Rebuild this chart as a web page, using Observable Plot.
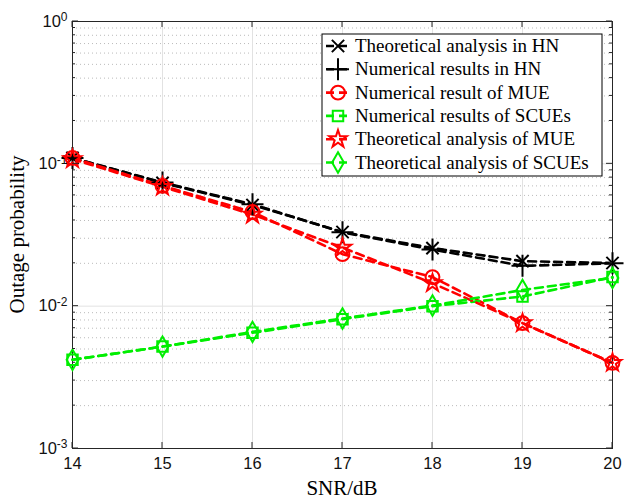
<!DOCTYPE html>
<html><head><meta charset="utf-8">
<script src="https://cdn.jsdelivr.net/npm/d3@7"></script>
<script src="https://cdn.jsdelivr.net/npm/@observablehq/plot@0.6"></script>
<style>body{margin:0;background:#fff}</style>
</head><body><div id="chart"></div>
<script>
const snr = [14, 15, 16, 17, 18, 19, 20];
const hnTheory = [0.110, 0.0735, 0.0514, 0.0332, 0.0256, 0.0207, 0.0201];
const hnNumeric = [0.110, 0.0740, 0.0520, 0.0330, 0.0250, 0.0192, 0.0200];
const mueNumeric = [0.110, 0.0700, 0.0459, 0.0232, 0.0160, 0.0076, 0.0040];
const scueNumeric = [0.0042, 0.0052, 0.0065, 0.0081, 0.0100, 0.0117, 0.0160];
const mueTheory = [0.108, 0.0690, 0.0440, 0.0258, 0.0145, 0.0076, 0.0040];
const scueTheory = [0.0042, 0.0052, 0.0066, 0.0082, 0.0101, 0.0130, 0.0158];
const yDecades = [1e-3, 1e-2, 1e-1, 1];
const yMinor = [2,3,4,5,6,7,8,9].flatMap(m => [1e-3, 1e-2, 1e-1].map(d => m*d));

const seriesDefs = [
  {name: "Theoretical analysis in HN", values: hnTheory, color: "#000000", symbol: "times"},
  {name: "Numerical results in HN", values: hnNumeric, color: "#000000", symbol: "plus"},
  {name: "Numerical result of MUE", values: mueNumeric, color: "#ff0000", symbol: "circle"},
  {name: "Numerical results of SCUEs", values: scueNumeric, color: "#00ee00", symbol: "square"},
  {name: "Theoretical analysis of MUE", values: mueTheory, color: "#ff0000", symbol: "star"},
  {name: "Theoretical analysis of SCUEs", values: scueTheory, color: "#00ee00", symbol: "diamond"}
];
const rows = seriesDefs.flatMap(s => snr.map((x, i) => ({x, y: s.values[i], s: s.name})));

const symbolSize = {times: 100, plus: 160, circle: 150, square: 110, star: 95, diamond: 120};
const marks = [
  Plot.ruleY(yMinor, {stroke: "#bbb", strokeDasharray: "1,3", strokeWidth: 1}),
  Plot.ruleY(yDecades, {stroke: "#e2e2e2", strokeWidth: 1}),
  Plot.ruleX(snr, {stroke: "#e2e2e2", strokeWidth: 1}),
  Plot.frame({stroke: "#262626", strokeWidth: 1}),
  Plot.axisX(snr, {tickSize: 0, tickPadding: 9, fontSize: 16.5, fontFamily: "Liberation Sans, Arial", fill: "#111", label: null, tickFormat: d => String(d)}),
  Plot.axisY(yDecades, {tickSize: 0, tickPadding: 5, fontSize: 16.5, fontFamily: "Liberation Sans, Arial", fill: "#111", label: null, tickFormat: d => "10"})
];
for (const s of seriesDefs) {
  const d = rows.filter(r => r.s === s.name);
  marks.push(Plot.line(d, {x: "x", y: "y", stroke: s.color, strokeWidth: 2.6, strokeDasharray: "8,5"}));
}
for (const s of seriesDefs) {
  const d = rows.filter(r => r.s === s.name);
  marks.push(Plot.dot(d, {x: "x", y: "y", stroke: s.color, strokeWidth: 2, symbol: () => s.symbol, r: Math.sqrt(symbolSize[s.symbol]/Math.PI), fill: "none"}));
}

const chart = Plot.plot({
  width: 625, height: 501,
  marginLeft: 72, marginRight: 13, marginTop: 21, marginBottom: 53,
  x: {domain: [14, 20]},
  y: {type: "log", domain: [1e-3, 1]},
  style: {background: "#fff"},
  marks
});
document.getElementById("chart").appendChild(chart);

const svg = d3.select(chart);
const X = chart.scale("x"), Y = chart.scale("y");
const exps = ["-3", "-2", "-1", "0"];
svg.selectAll('g[aria-label="y-axis tick label"] text').each(function(d, i) {
  const t = d3.select(this);
  t.text(null);
  t.append("tspan").text("10");
  t.append("tspan").attr("dy", "-0.45em").attr("font-size", 12).text(exps[i]);
});
const x0 = X.apply(14), x1 = X.apply(20), y0 = Y.apply(1e-3), y1 = Y.apply(1);
const tg = svg.append("g").attr("stroke", "#262626").attr("stroke-width", 1);
for (const v of snr) {
  const px = X.apply(v);
  tg.append("line").attr("x1", px).attr("x2", px).attr("y1", y0).attr("y2", y0 - 6);
  tg.append("line").attr("x1", px).attr("x2", px).attr("y1", y1).attr("y2", y1 + 6);
}
for (const v of yDecades) {
  const py = Y.apply(v);
  tg.append("line").attr("x1", x0).attr("x2", x0 + 6).attr("y1", py).attr("y2", py);
  tg.append("line").attr("x1", x1).attr("x2", x1 - 6).attr("y1", py).attr("y2", py);
}
for (const v of yMinor) {
  const py = Y.apply(v);
  tg.append("line").attr("x1", x0).attr("x2", x0 + 3).attr("y1", py).attr("y2", py);
  tg.append("line").attr("x1", x1).attr("x2", x1 - 3).attr("y1", py).attr("y2", py);
}
svg.append("text").attr("x", (x0 + x1) / 2).attr("y", 495).attr("text-anchor", "middle")
  .attr("font-family", "Liberation Serif, Times New Roman").attr("font-size", 21).attr("fill", "#000").text("SNR/dB");
svg.append("text").attr("transform", `translate(24,${(y0 + y1) / 2}) rotate(-90)`).attr("text-anchor", "middle")
  .attr("font-family", "Liberation Serif, Times New Roman").attr("font-size", 21).attr("fill", "#000").text("Outage probability");
const lg = svg.append("g");
lg.append("rect").attr("x", 322).attr("y", 34).attr("width", 280).attr("height", 142).attr("fill", "#fff").attr("stroke", "#000").attr("stroke-width", 1);
const symMap = {times: d3.symbolTimes, plus: d3.symbolPlus, circle: d3.symbolCircle, square: d3.symbolSquare, star: d3.symbolStar, diamond: d3.symbolDiamond};
seriesDefs.forEach((s, i) => {
  const cy = 46 + i * 23.3;
  lg.append("line").attr("x1", 326).attr("x2", 350).attr("y1", cy).attr("y2", cy).attr("stroke", s.color).attr("stroke-width", 2.6).attr("stroke-dasharray", "8,5");
  lg.append("path").attr("transform", `translate(338,${cy})`).attr("d", d3.symbol(symMap[s.symbol], symbolSize[s.symbol])()).attr("fill", "none").attr("stroke", s.color).attr("stroke-width", 2);
  lg.append("text").attr("x", 355).attr("y", cy + 6).attr("text-anchor", "start").attr("font-family", "Liberation Serif, Times New Roman").attr("font-size", 19).attr("fill", "#000").text(s.name);
});
</script>
</body></html>
